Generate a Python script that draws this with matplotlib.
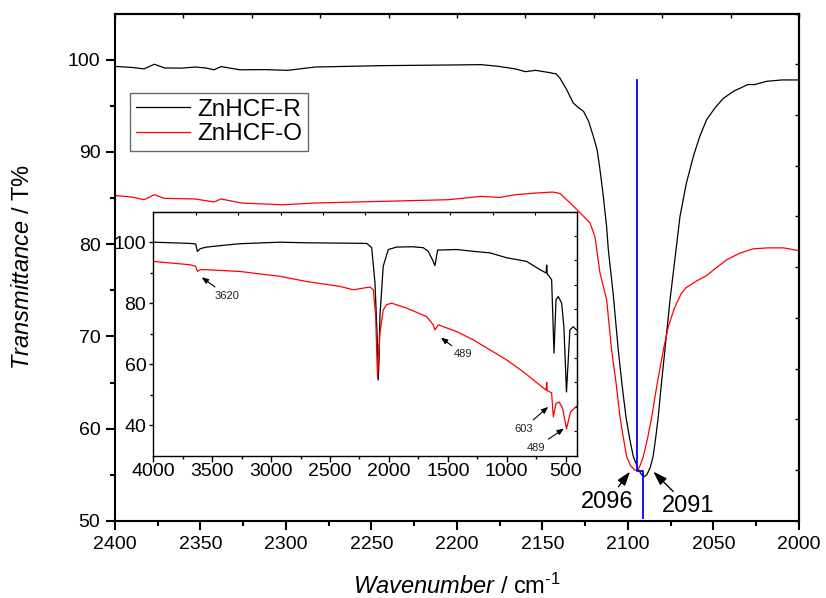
import matplotlib
matplotlib.use("Agg")
import matplotlib.pyplot as plt

plt.rcParams['font.family'] = ['Liberation Sans', 'DejaVu Sans']
plt.rcParams['mathtext.fontset'] = 'custom'
plt.rcParams['mathtext.rm'] = 'Liberation Sans'
plt.rcParams['mathtext.it'] = 'Liberation Sans:italic'

# ---------------- main spectra (2400-2000 cm-1) ----------------
r_wn = [2400, 2390, 2383, 2377, 2371, 2361, 2353, 2347, 2342, 2338, 2327, 2312, 2299,
        2283, 2244, 2205, 2186, 2176, 2166, 2160, 2154, 2146, 2142, 2139.8, 2136, 2132,
        2129, 2126, 2123, 2120.3, 2118, 2116.4, 2114.5, 2112.5, 2111.5, 2108.6, 2105.7,
        2103.5, 2101.2, 2099, 2096.9, 2094, 2092, 2090.6, 2089, 2087, 2085.3, 2083.8,
        2082.3, 2080.5, 2078.4, 2075.4, 2071.9, 2069.6, 2066, 2061.8, 2058, 2054, 2049,
        2044.3, 2038, 2034.5, 2030, 2026, 2019, 2010, 2000]
r_T = [99.27, 99.15, 99.0, 99.5, 99.1, 99.08, 99.2, 99.1, 98.9, 99.25, 98.9, 98.92, 98.84,
       99.2, 99.35, 99.42, 99.46, 99.28, 99.0, 98.7, 98.84, 98.6, 98.45, 98.0, 96.8, 95.3,
       94.8, 94.4, 93.3, 91.7, 90.2, 88.1, 85.3, 81.9, 79.4, 74.5, 68.55,
       64.8, 61.3, 58.9, 57.0, 55.6, 55.0, 54.8, 55.0, 55.8, 57.0, 59.0,
       61.3, 64.8, 68.55, 74.0, 79.4, 83.0, 86.5, 89.5, 91.7, 93.5, 94.8,
       95.8, 96.6, 96.9, 97.3, 97.3, 97.65, 97.8, 97.8]

o_wn = [2400, 2390, 2383, 2377, 2371, 2353, 2342, 2338, 2326, 2302, 2283, 2244, 2205,
        2186, 2175, 2166, 2154, 2144, 2139.8, 2134, 2128, 2122.2, 2119.3, 2116.4, 2112.5,
        2109.6, 2107, 2104.7, 2102.7, 2100.8, 2098.5, 2096, 2094, 2092.5, 2091, 2088.5,
        2086.1, 2083, 2079.3, 2076.5, 2073, 2069, 2066, 2060, 2054, 2048, 2042.3, 2035,
        2026.7, 2018, 2009, 2000]
o_T = [85.28, 85.1, 84.82, 85.36, 84.96, 84.9, 84.57, 84.9, 84.46, 84.27, 84.46, 84.64, 84.82,
       85.18, 85.07, 85.36, 85.54, 85.65, 85.5, 84.5, 83.4, 82.3, 80.8, 76.9, 74.0,
       68.55, 65.0, 61.3, 59.0, 57.0, 56.0, 55.5, 55.6, 56.2, 57.0, 59.0,
       61.3, 64.8, 68.55, 71.0, 73.0, 74.6, 75.3, 76.0, 76.6, 77.5, 78.3, 79.0,
       79.5, 79.6, 79.6, 79.3]

# peak marker (blue)
mark_wn = [2094.9, 2094.9, 2091.0, 2091.0]
mark_T = [97.8, 55.4, 55.4, 50.3]

# ---------------- inset spectra (4000-400 cm-1) ----------------
ir_wn = [4000, 3688, 3640, 3626, 3600, 3547, 3400, 3264, 2924, 2700, 2415, 2188, 2146,
         2118, 2098, 2090, 2083, 2076, 2048, 2005, 1934, 1800, 1708, 1666, 1623, 1609,
         1586, 1425, 1284, 1142, 1000, 830, 717, 665, 660, 655, 618, 598, 581, 562,
         533, 514, 492, 463, 435, 406]
ir_T = [100, 99.6, 99.4, 97.0, 97.9, 98.4, 99.0, 99.5, 100, 99.8, 99.7, 99.6, 98.2,
        86.7, 68, 54.8, 62, 75.6, 92.1, 97.6, 98.4, 98.5, 98.2, 97.0, 93.7, 92.3,
        97.4, 97.6, 97.0, 96.5, 94.9, 93.7, 91.0, 89.9, 92.5, 89.6, 87.7, 63.6, 81.1, 82.2,
        80.0, 72.3, 50.9, 71.2, 72.3, 71.2]

io_wn = [4000, 3688, 3640, 3626, 3600, 3563, 3264, 2924, 2697, 2415, 2301, 2160, 2132,
         2112, 2104, 2096, 2088, 2076, 2048, 2020, 1977, 1850, 1680, 1623, 1609, 1580,
         1425, 1284, 1142, 1000, 859, 717, 665, 660, 655, 618, 604, 581, 553, 524,
         492, 458, 406]
io_T = [93.7, 92.6, 92.1, 90.4, 91.0, 91.0, 90.4, 88.8, 87.1, 85.5, 84.4, 85.3, 84.4,
        75.6, 65, 55.5, 62, 70.1, 77.8, 79.5, 80.0, 78.4, 75.6, 72.9, 71.2, 72.9,
        70.7, 68.0, 64.7, 61.4, 57.5, 53.1, 51.5, 54.0, 51.3, 50.6, 42.7, 47.1, 47.6, 45.4,
        38.8, 44.3, 46.2]

labels = ['ZnHCF-R', 'ZnHCF-O']
colors = ['black', '#ff0000']

fig = plt.figure(figsize=(8.26, 5.98), dpi=100)
ax = fig.add_axes([0.1392, 0.1288, 0.8281, 0.8486])

ax.plot(r_wn, r_T, color=colors[0], lw=0.9, label=labels[0])
ax.plot(o_wn, o_T, color=colors[1], lw=0.9, label=labels[1])
ax.plot(mark_wn, mark_T, color='#0000ff', lw=1.3)

ax.set_xlim(2400, 2000)
ax.set_ylim(50, 105)
ax.set_xticks(range(2400, 1999, -50))
ax.set_xticks(range(2375, 2000, -50), minor=True)
ax.set_yticks(range(50, 101, 10))
ax.set_yticks(range(55, 105, 10), minor=True)
for s in ax.spines.values():
    s.set_linewidth(1.5)
ax.tick_params(which='major', direction='out', length=6.5, width=1.5, labelsize=14, pad=4)
ax.tick_params(which='minor', direction='out', length=3.5, width=1.5)
ax.tick_params(top=False, right=False)

# top/right decorative ticks (10 equal divisions)
sec_x = ax.secondary_xaxis('top', functions=(lambda x: (2400 - x) / 40.0, lambda v: 2400 - 40.0 * v))
sec_x.set_xticks(range(0, 11))
sec_x.tick_params(direction='in', length=3, width=1.0, labeltop=False)
sec_x.spines['top'].set_linewidth(1.5)
sec_y = ax.secondary_yaxis('right', functions=(lambda y: (y - 50) / 5.5, lambda v: 50 + 5.5 * v))
sec_y.set_yticks(range(0, 11))
sec_y.tick_params(direction='in', length=3, width=1.0, labelright=False)
sec_y.spines['right'].set_linewidth(1.5)

ax.set_xlabel(r'$\it{Wavenumber}$ / cm$^{\text{-1}}$', fontsize=17, labelpad=15)
ax.set_ylabel(r'$\it{Transmittance}$ / T%', fontsize=17, labelpad=24)

leg = ax.legend(loc='upper left', bbox_to_anchor=(0.0219, 0.844), borderaxespad=0,
                fontsize=17.5, frameon=True, fancybox=False, handlelength=2.2,
                handletextpad=0.3, labelspacing=0.1, borderpad=0.25)
leg.get_frame().set_edgecolor('#444444')
leg.get_frame().set_linewidth(1.0)

ap = dict(arrowstyle='-|>,head_length=0.42,head_width=0.14', color='black', lw=1.0,
          mutation_scale=20, shrinkA=1, shrinkB=0)
ax.annotate('2096', xy=(2098.8, 55.35), xytext=(2112.3, 52.1), fontsize=17,
            ha='center', va='center', arrowprops=ap)
ax.annotate('2091', xy=(2085.2, 55.35), xytext=(2064.9, 51.6), fontsize=17,
            ha='center', va='center', arrowprops=ap)

# ---------------- inset ----------------
axi = fig.add_axes([0.1856, 0.238, 0.5129, 0.408])
axi.set_zorder(3)
axi.set_facecolor('white')
axi.plot(ir_wn, ir_T, color=colors[0], lw=0.9)
axi.plot(io_wn, io_T, color=colors[1], lw=0.9)
axi.set_xlim(4000, 403)
axi.set_ylim(30, 110)
axi.set_xticks(range(4000, 499, -500))
axi.set_xticks(range(3750, 400, -500), minor=True)
axi.set_yticks(range(40, 101, 20))
axi.set_yticks(range(50, 110, 20), minor=True)
for s in axi.spines.values():
    s.set_linewidth(1.0)
axi.tick_params(which='major', direction='out', length=4.5, width=1.0, labelsize=14, pad=1)
axi.tick_params(axis='y', which='major', length=3, pad=2)
axi.tick_params(which='minor', direction='out', length=2.2, width=1.0)
isx = axi.secondary_xaxis('top', functions=(lambda x: (4000 - x) / 360.0, lambda v: 4000 - 360.0 * v))
isx.set_xticks(range(0, 11))
isx.tick_params(direction='in', length=2, width=0.8, labeltop=False)
isy = axi.secondary_yaxis('right', functions=(lambda y: (y - 30) / 8.0, lambda v: 30 + 8.0 * v))
isy.set_yticks(range(0, 11))
isy.tick_params(direction='in', length=2, width=0.8, labelright=False)

sap = dict(arrowstyle='-|>,head_length=0.5,head_width=0.2', color='black', lw=0.8,
           mutation_scale=8, shrinkA=1, shrinkB=0)
axi.annotate('3620', xy=(3589, 88.5), xytext=(3377, 82.5), fontsize=8, color='#222222',
             ha='center', va='center', arrowprops=sap)
axi.annotate('489', xy=(1558, 68.7), xytext=(1368, 63.2), fontsize=8, color='#222222',
             ha='center', va='center', arrowprops=sap)
axi.annotate('603', xy=(647, 46.0), xytext=(859, 38.9), fontsize=8, color='#222222',
             ha='center', va='center', arrowprops=sap)
axi.annotate('489', xy=(514, 38.9), xytext=(751, 32.6), fontsize=8, color='#222222',
             ha='center', va='center', arrowprops=sap)

fig.savefig('out.png', dpi=100)
